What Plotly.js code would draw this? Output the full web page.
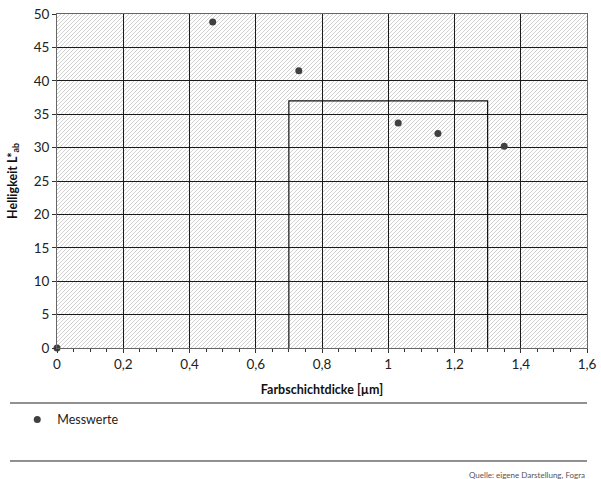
<!DOCTYPE html>
<html>
<head>
<meta charset="utf-8">
<script src="https://cdn.plot.ly/plotly-3.0.1.min.js"></script>
<style>
html,body{margin:0;padding:0;background:#fff;}
#wrap{position:relative;width:601px;height:479px;}
#hatch{position:absolute;left:57px;top:14px;width:530px;height:334px;background-color:#fff;
  background-image:url("data:image/svg+xml;utf8,<svg xmlns='http://www.w3.org/2000/svg' width='4' height='4' shape-rendering='crispEdges'><rect x='3' y='0' width='1' height='1' fill='%23d0d0d0'/><rect x='2' y='1' width='1' height='1' fill='%23d0d0d0'/><rect x='1' y='2' width='1' height='1' fill='%23d0d0d0'/><rect x='0' y='3' width='1' height='1' fill='%23d0d0d0'/></svg>");
  background-repeat:repeat;background-size:4px 4px;}
#chart{position:absolute;left:0;top:0;width:601px;height:479px;}
</style>
</head>
<body>
<div id="wrap"><div id="hatch"></div><div id="chart"></div></div>
<script>
// Data
const farbschichtdicke = [0, 0.47, 0.73, 1.03, 1.15, 1.35];
const helligkeit = [0, 48.8, 41.5, 33.7, 32.1, 30.2];
const seriesName = 'Messwerte';
const xRange = [0, 1.6];
const yRange = [0, 50];
// Toleranzfenster
const windowX = [0.7, 1.3];
const windowYTop = 37;

const font = 'Lato, "Liberation Sans", sans-serif';

const points = {
  x: farbschichtdicke, y: helligkeit, name: seriesName,
  mode: 'markers', type: 'scatter',
  marker: {color: '#404040', size: 7},
  cliponaxis: false
};

const layout = {
  width: 601, height: 479,
  margin: {l: 57, r: 14, t: 14, b: 131},
  paper_bgcolor: 'rgba(0,0,0,0)', plot_bgcolor: 'rgba(0,0,0,0)',
  separators: ',.',
  font: {family: font, size: 12, color: '#222'},
  xaxis: {
    range: xRange, dtick: 0.2, tick0: 0,
    showgrid: true, gridcolor: '#1a1a1a', gridwidth: 1,
    showline: true, linecolor: '#666', linewidth: 1, mirror: true,
    ticks: 'outside', ticklen: 4, tickcolor: '#333',
    minor: {dtick: 0.05, ticks: 'outside', ticklen: 3, tickcolor: '#333', showgrid: false},
    zeroline: false,
    tickfont: {size: 13.5, color: '#222'},
    title: {text: '<b>Farbschichtdicke [µm]</b>', font: {size: 12.5, color: '#111'}, standoff: 14}
  },
  yaxis: {
    range: yRange, dtick: 5, tick0: 0,
    showgrid: true, gridcolor: '#1a1a1a', gridwidth: 1,
    showline: true, linecolor: '#666', linewidth: 1, mirror: true,
    ticks: 'outside', ticklen: 4, tickcolor: '#333',
    zeroline: false,
    tickfont: {size: 13.5, color: '#222'},
    title: {text: '<b>Helligkeit L*<sub>ab</sub></b>', font: {size: 12.5, color: '#111'}, standoff: 13}
  },
  showlegend: true,
  legend: {
    orientation: 'h', x: -0.075, xanchor: 'left', y: -0.215, yanchor: 'middle',
    font: {size: 12.5, color: '#222'}, bgcolor: 'rgba(0,0,0,0)'
  },
  shapes: [
    {type: 'path', xref: 'x', yref: 'y', layer: 'above',
     path: 'M ' + windowX[0] + ' ' + yRange[0] + ' L ' + windowX[0] + ' ' + windowYTop +
           ' L ' + windowX[1] + ' ' + windowYTop + ' L ' + windowX[1] + ' ' + yRange[0],
     line: {color: '#111', width: 1.2}},
    {type: 'line', xref: 'paper', yref: 'paper', x0: -0.0887, x1: 1, y0: -0.1647, y1: -0.1647,
     line: {color: '#222', width: 1}},
    {type: 'line', xref: 'paper', yref: 'paper', x0: -0.0887, x1: 1, y0: -0.3383, y1: -0.3383,
     line: {color: '#222', width: 1}}
  ],
  annotations: [
    {text: 'Quelle: eigene Darstellung, Fogra', xref: 'paper', yref: 'paper', x: 1, y: -0.381,
     xanchor: 'right', yanchor: 'middle', showarrow: false, font: {size: 8, color: '#555'}}
  ]
};

Plotly.newPlot('chart', [points], layout, {displayModeBar: false, staticPlot: true});
</script>
</body>
</html>
